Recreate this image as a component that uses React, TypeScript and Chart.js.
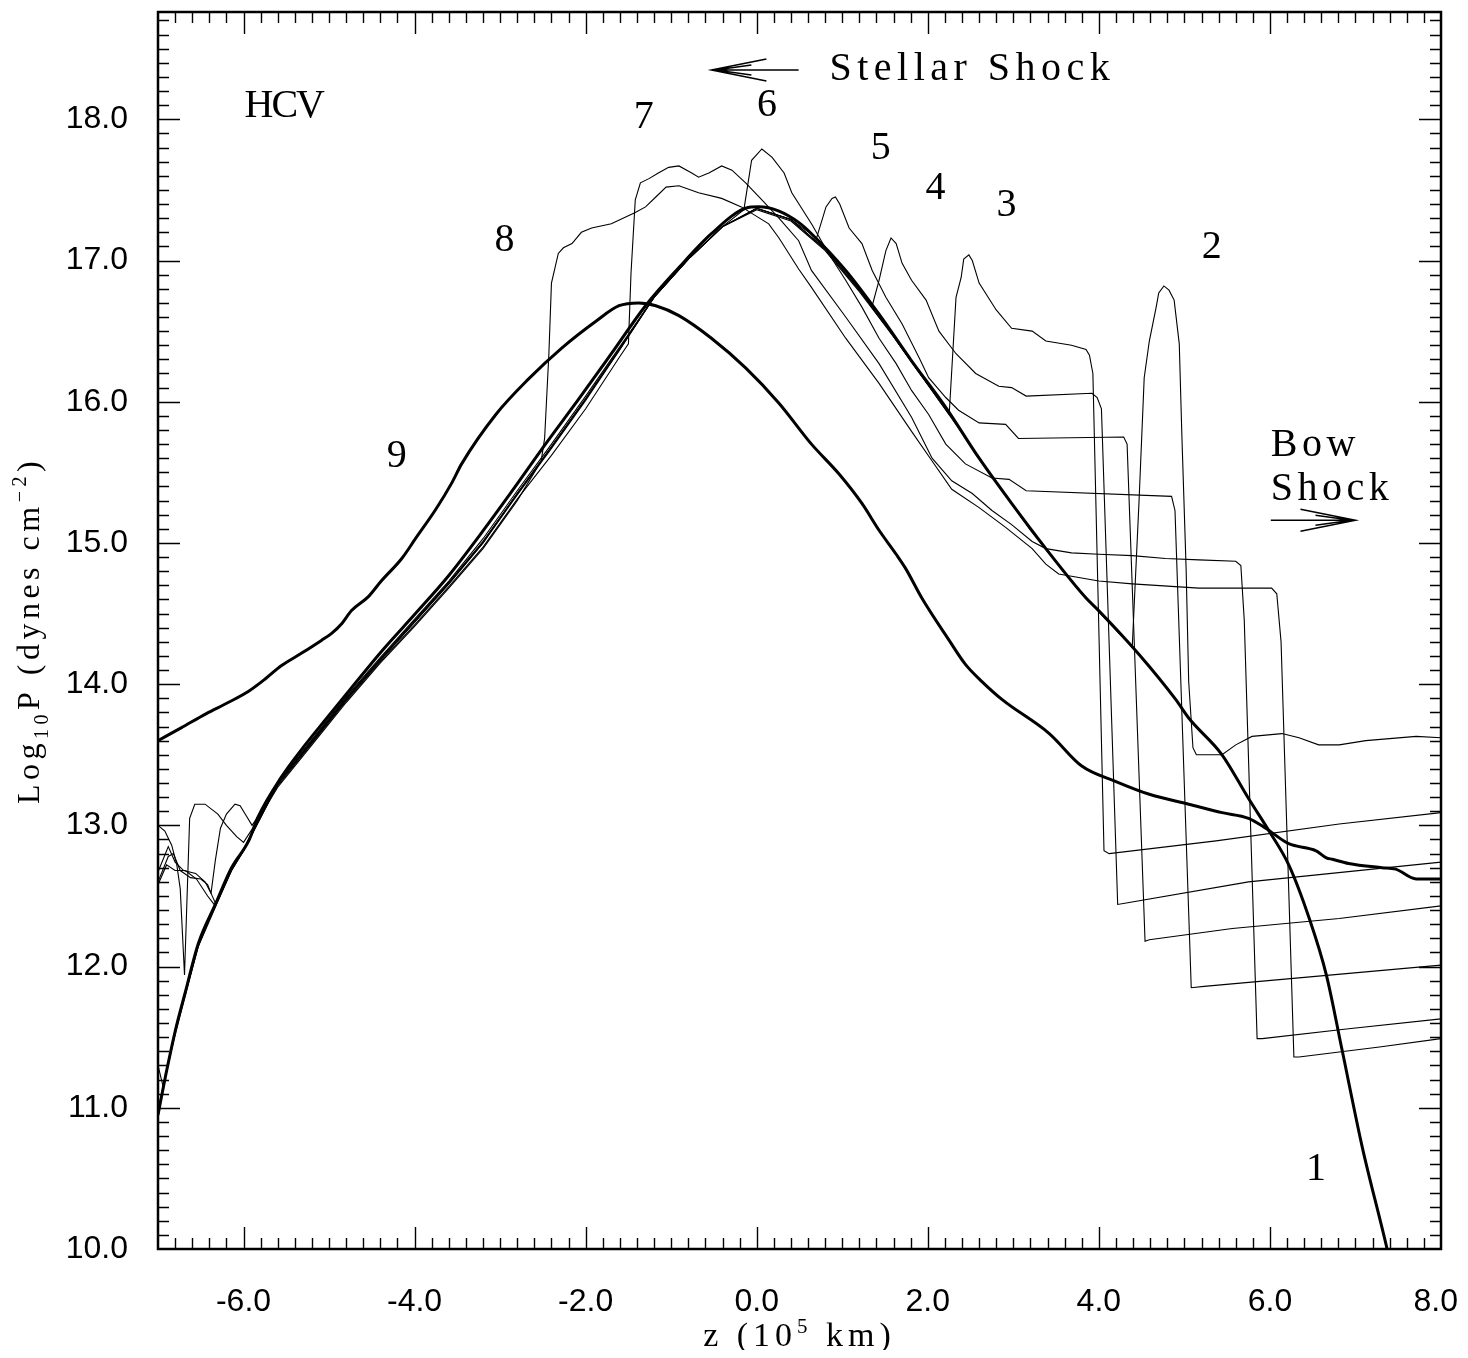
import React, { useEffect, useRef } from 'react';
import { Chart, registerables } from 'chart.js';

Chart.register(...registerables);

type Pt = [number, number];

const X_MIN = -7;
const X_MAX = 8;
const Y_MIN = 10;
const Y_MAX = 18.76;

const xTickValues = [-6, -4, -2, 0, 2, 4, 6, 8];
const yTickValues = [10, 11, 12, 13, 14, 15, 16, 17, 18];

// Curve 1 (thick): initial state
const curve1: Pt[] = [
  [-7.0, 10.95], [-6.91, 11.23], [-6.8, 11.54], [-6.68, 11.82], [-6.53, 12.16], [-6.33, 12.44],
  [-6.14, 12.7], [-5.94, 12.89], [-5.83, 13.06], [-5.56, 13.34], [-5.28, 13.57], [-5.04, 13.75],
  [-4.77, 13.95], [-4.39, 14.23], [-3.99, 14.5], [-3.6, 14.77], [-3.22, 15.07], [-2.87, 15.36],
  [-2.47, 15.7], [-2.08, 16.02], [-1.7, 16.34], [-1.3, 16.68], [-0.91, 16.95], [-0.53, 17.19],
  [-0.13, 17.37], [0.02, 17.38], [0.26, 17.35], [0.49, 17.27], [0.64, 17.19], [1.04, 16.93],
  [1.43, 16.62], [1.81, 16.29], [2.21, 15.96], [2.6, 15.6], [2.98, 15.28], [3.38, 14.96],
  [3.85, 14.61], [4.0, 14.52], [4.47, 14.21], [4.9, 13.89], [5.05, 13.76], [5.44, 13.5],
  [5.75, 13.19], [5.99, 12.96], [6.22, 12.72], [6.46, 12.34], [6.66, 11.94], [6.84, 11.42],
  [7.08, 10.72], [7.37, 10.0], [7.55, 9.5],
];

// Curve 9 (thick): final state
const curve9: Pt[] = [
  [-7.0, 13.6], [-6.73, 13.69], [-6.44, 13.79], [-6.18, 13.87], [-5.94, 13.95], [-5.74, 14.04],
  [-5.56, 14.13], [-5.32, 14.22], [-5.09, 14.31], [-4.97, 14.36], [-4.85, 14.43], [-4.74, 14.52],
  [-4.54, 14.62], [-4.39, 14.73], [-4.15, 14.89], [-3.99, 15.03], [-3.75, 15.24], [-3.57, 15.42],
  [-3.45, 15.56], [-3.05, 15.91], [-2.67, 16.16], [-2.28, 16.38], [-1.88, 16.57], [-1.61, 16.68],
  [-1.38, 16.7], [-1.18, 16.68], [-0.91, 16.61], [-0.53, 16.45], [-0.13, 16.24], [0.26, 15.99],
  [0.64, 15.7], [0.96, 15.49], [1.23, 15.28], [1.43, 15.09], [1.63, 14.92], [1.74, 14.82],
  [1.93, 14.61], [2.25, 14.31], [2.44, 14.14], [2.63, 14.02], [2.87, 13.89], [3.42, 13.65],
  [3.8, 13.42], [4.2, 13.31], [4.59, 13.22], [5.05, 13.15], [5.44, 13.09], [5.75, 13.05],
  [5.95, 12.98], [6.22, 12.87], [6.54, 12.82], [6.66, 12.77], [6.73, 12.76], [6.92, 12.73],
  [7.31, 12.7], [7.47, 12.69], [7.71, 12.62], [8.0, 12.62],
];

const curve2: Pt[] = [
  [-7.0, 10.98], [-6.91, 11.24], [-6.8, 11.54], [-6.68, 11.81], [-6.53, 12.15], [-6.33, 12.43],
  [-6.14, 12.69], [-6.0, 12.83], [-5.6, 13.31], [-5.2, 13.61], [-4.8, 13.91], [-4.4, 14.19],
  [-4.0, 14.46], [-3.6, 14.73], [-3.2, 15.03], [-2.8, 15.37], [-2.4, 15.7], [-2.0, 16.04],
  [-1.6, 16.39], [-1.2, 16.74], [-0.8, 17.01], [-0.4, 17.24], [0.0, 17.36], [0.4, 17.28],
  [0.8, 17.07], [1.2, 16.78], [1.6, 16.46], [2.0, 16.12], [2.4, 15.78], [2.8, 15.43],
  [3.2, 15.09], [3.6, 14.79], [4.0, 14.51], [4.39, 14.26], [4.47, 15.3], [4.53, 16.17],
  [4.59, 16.43], [4.67, 16.67], [4.7, 16.77], [4.76, 16.82], [4.82, 16.79], [4.88, 16.72],
  [4.94, 16.41], [4.97, 15.77], [5.02, 14.82], [5.05, 14.02], [5.1, 13.55], [5.14, 13.5],
  [5.44, 13.5], [5.6, 13.57], [5.79, 13.63], [6.14, 13.65], [6.34, 13.62], [6.57, 13.57],
  [6.81, 13.57], [7.12, 13.6], [7.71, 13.63], [8.0, 13.62],
];

const curve3: Pt[] = [
  [-7.0, 10.96], [-6.91, 11.23], [-6.8, 11.53], [-6.68, 11.81], [-6.53, 12.15], [-6.33, 12.43],
  [-6.14, 12.69], [-6.0, 12.82], [-5.6, 13.3], [-5.2, 13.59], [-4.8, 13.89], [-4.4, 14.17],
  [-4.0, 14.44], [-3.6, 14.71], [-3.2, 15.0], [-2.8, 15.34], [-2.4, 15.67], [-2.0, 16.01],
  [-1.6, 16.37], [-1.2, 16.74], [-0.8, 17.01], [-0.4, 17.24], [0.0, 17.37], [0.4, 17.29],
  [0.8, 17.08], [1.2, 16.79], [1.6, 16.46], [2.0, 16.12], [2.25, 15.91], [2.33, 16.74],
  [2.39, 16.88], [2.42, 17.01], [2.48, 17.04], [2.52, 17.0], [2.6, 16.84], [2.8, 16.65],
  [2.98, 16.52], [3.22, 16.5], [3.38, 16.43], [3.68, 16.4], [3.85, 16.37], [3.89, 16.33],
  [3.93, 16.2], [4.06, 12.82], [4.12, 12.8], [5.37, 12.89], [6.81, 13.01], [8.0, 13.09],
];

const curve4: Pt[] = [
  [-7.0, 12.58], [-6.9, 12.72], [-6.8, 12.68], [-6.68, 12.68], [-6.55, 12.62], [-6.42, 12.5],
  [-6.33, 12.43], [-6.14, 12.68], [-6.0, 12.82], [-5.6, 13.29], [-5.2, 13.6], [-4.8, 13.9],
  [-4.4, 14.18], [-4.0, 14.45], [-3.6, 14.72], [-3.2, 15.01], [-2.8, 15.35], [-2.4, 15.68],
  [-2.0, 16.02], [-1.6, 16.38], [-1.2, 16.74], [-0.8, 17.01], [-0.4, 17.24], [0.0, 17.37],
  [0.4, 17.29], [0.8, 17.08], [1.2, 16.79], [1.35, 16.68], [1.43, 16.86], [1.51, 17.07],
  [1.57, 17.16], [1.63, 17.12], [1.7, 16.98], [1.81, 16.86], [1.98, 16.72], [2.13, 16.5],
  [2.33, 16.34], [2.56, 16.2], [2.83, 16.11], [2.98, 16.1], [3.15, 16.04], [3.92, 16.06],
  [3.98, 16.03], [4.03, 15.95], [4.22, 12.44], [4.32, 12.45], [5.75, 12.6], [8.0, 12.74],
];

const curve5: Pt[] = [
  [-7.0, 11.3], [-6.94, 11.15], [-6.8, 11.52], [-6.68, 11.8], [-6.53, 12.14], [-6.33, 12.42],
  [-6.14, 12.68], [-6.0, 12.82], [-5.6, 13.29], [-5.2, 13.59], [-4.8, 13.89], [-4.4, 14.17],
  [-4.0, 14.44], [-3.6, 14.71], [-3.2, 15.0], [-2.8, 15.35], [-2.4, 15.68], [-2.0, 16.02],
  [-1.6, 16.38], [-1.2, 16.74], [-0.8, 17.01], [-0.4, 17.24], [0.0, 17.37], [0.4, 17.29],
  [0.7, 17.16], [0.81, 17.38], [0.88, 17.44], [0.92, 17.45], [0.97, 17.4], [1.08, 17.23],
  [1.23, 17.12], [1.35, 16.93], [1.51, 16.74], [1.7, 16.55], [1.9, 16.31], [2.01, 16.17],
  [2.21, 16.03], [2.36, 15.94], [2.6, 15.85], [2.91, 15.84], [3.06, 15.74], [4.29, 15.75],
  [4.33, 15.7], [4.54, 12.18], [4.59, 12.19], [5.56, 12.27], [6.81, 12.34], [8.0, 12.43],
];

const curve6: Pt[] = [
  [-7.0, 12.67], [-6.88, 12.85], [-6.8, 12.74], [-6.7, 12.68], [-6.56, 12.66], [-6.45, 12.6],
  [-6.38, 12.52], [-6.33, 12.45], [-6.14, 12.69], [-6.0, 12.83], [-5.6, 13.3], [-5.2, 13.6],
  [-4.8, 13.9], [-4.4, 14.18], [-4.0, 14.45], [-3.6, 14.72], [-3.2, 15.01], [-2.8, 15.35],
  [-2.4, 15.68], [-2.0, 16.02], [-1.6, 16.37], [-1.2, 16.74], [-0.8, 17.01], [-0.4, 17.24],
  [-0.15, 17.36], [-0.06, 17.71], [0.06, 17.79], [0.18, 17.73], [0.32, 17.62], [0.41, 17.48],
  [0.64, 17.26], [0.84, 17.05], [1.04, 16.86], [1.23, 16.67], [1.43, 16.45], [1.63, 16.27],
  [1.81, 16.08], [2.01, 15.91], [2.21, 15.7], [2.44, 15.56], [2.75, 15.46], [2.95, 15.45],
  [3.15, 15.37], [4.85, 15.33], [4.89, 15.23], [5.08, 11.85], [5.23, 11.86], [8.0, 12.01],
];

const curve7: Pt[] = [
  [-7.0, 12.6], [-6.88, 12.78], [-6.82, 12.8], [-6.74, 12.68], [-6.62, 12.63], [-6.5, 12.62],
  [-6.42, 12.58], [-6.38, 12.52], [-6.33, 12.75], [-6.27, 12.98], [-6.2, 13.08], [-6.1, 13.15],
  [-6.04, 13.14], [-5.97, 13.07], [-5.9, 13.0], [-5.8, 13.09], [-5.6, 13.28], [-5.2, 13.58],
  [-4.8, 13.88], [-4.4, 14.16], [-4.0, 14.42], [-3.6, 14.69], [-3.2, 14.97], [-2.8, 15.31],
  [-2.4, 15.62], [-2.0, 15.95], [-1.6, 16.32], [-1.5, 16.41], [-1.47, 16.91], [-1.42, 17.43],
  [-1.36, 17.55], [-1.26, 17.58], [-1.15, 17.62], [-1.03, 17.66], [-0.91, 17.67], [-0.76, 17.62],
  [-0.68, 17.59], [-0.56, 17.62], [-0.41, 17.67], [-0.29, 17.64], [-0.13, 17.55], [0.06, 17.43],
  [0.26, 17.3], [0.49, 17.14], [0.64, 16.93], [1.04, 16.6], [1.43, 16.27], [1.81, 15.89],
  [2.05, 15.6], [2.28, 15.44], [2.52, 15.35], [2.75, 15.23], [2.98, 15.13], [3.22, 15.01],
  [3.38, 14.96], [3.68, 14.93], [4.0, 14.92], [4.39, 14.91], [4.78, 14.89], [5.17, 14.88],
  [5.6, 14.87], [5.66, 14.84], [5.7, 14.45], [5.85, 11.49], [5.91, 11.49], [6.92, 11.56],
  [8.0, 11.63],
];

const curve8: Pt[] = [
  [-7.0, 13.0], [-6.92, 12.96], [-6.84, 12.86], [-6.78, 12.72], [-6.74, 12.55], [-6.69, 11.94],
  [-6.63, 13.05], [-6.57, 13.15], [-6.45, 13.15], [-6.3, 13.08], [-6.2, 13.0], [-6.08, 12.92],
  [-6.0, 12.88], [-5.85, 13.02], [-5.6, 13.27], [-5.2, 13.57], [-4.8, 13.87], [-4.4, 14.15],
  [-4.0, 14.41], [-3.6, 14.68], [-3.2, 14.96], [-2.8, 15.3], [-2.52, 15.58], [-2.48, 15.74],
  [-2.43, 16.34], [-2.4, 16.84], [-2.32, 17.05], [-2.26, 17.09], [-2.16, 17.12], [-2.05, 17.2],
  [-1.93, 17.23], [-1.7, 17.26], [-1.42, 17.34], [-1.3, 17.38], [-1.18, 17.45], [-1.06, 17.52],
  [-0.91, 17.53], [-0.68, 17.48], [-0.41, 17.44], [-0.18, 17.38], [0.14, 17.26], [0.26, 17.16],
  [0.49, 16.94], [0.64, 16.81], [1.04, 16.45], [1.43, 16.13], [1.81, 15.79], [2.05, 15.58],
  [2.28, 15.38], [2.6, 15.25], [2.91, 15.11], [3.22, 14.96], [3.38, 14.85], [3.53, 14.78],
  [4.0, 14.73], [4.39, 14.71], [5.17, 14.68], [6.02, 14.68], [6.08, 14.64], [6.13, 14.3],
  [6.28, 11.36], [6.34, 11.36], [7.28, 11.43], [8.0, 11.49],
];

const thickSeries: Pt[][] = [curve1, curve9];
const thinSeries: Pt[][] = [curve2, curve3, curve4, curve5, curve6, curve7, curve8];

const curveLabels = [
  { text: 'HCV', x: -5.53, y: 18.09 },
  { text: '9', x: -4.21, y: 15.61 },
  { text: '8', x: -2.95, y: 17.14 },
  { text: '7', x: -1.32, y: 18.01 },
  { text: '6', x: 0.12, y: 18.1 },
  { text: '5', x: 1.45, y: 17.79 },
  { text: '4', x: 2.09, y: 17.51 },
  { text: '3', x: 2.92, y: 17.39 },
  { text: '2', x: 5.32, y: 17.09 },
  { text: '1', x: 6.54, y: 10.56 },
];

const stellarNote = { text: 'Stellar Shock', x: 0.85, y: 18.35, arrowFrom: 0.49, arrowTo: -0.53 };
const bowNote = { lines: ['Bow', 'Shock'], x: 6.01, y1: 15.69, y2: 15.38, arrowY: 15.16, arrowFrom: 6.01, arrowTo: 7.0 };

const SERIF = "'Liberation Serif', 'Times New Roman', serif";
const SANS = "'Liberation Sans', Arial, Helvetica, sans-serif";

// canvas geometry
const CANVAS_W = 1452;
const CANVAS_H = 1342;
const AREA = { left: 150, right: 1433, top: 4, bottom: 1241 };

type Part = { t: string; s?: 'sub' | 'sup' };

function drawParts(ctx: CanvasRenderingContext2D, parts: Part[], cx: number, cy: number, size: number, spacing: number) {
  const small = Math.round(size * 0.62);
  (ctx as any).letterSpacing = `${spacing}px`;
  const widths = parts.map((p) => {
    ctx.font = `${p.s ? small : size}px ${SERIF}`;
    return ctx.measureText(p.t).width;
  });
  const total = widths.reduce((a, b) => a + b, 0);
  let x = cx - total / 2;
  ctx.textAlign = 'left';
  ctx.textBaseline = 'alphabetic';
  parts.forEach((p, i) => {
    ctx.font = `${p.s ? small : size}px ${SERIF}`;
    const dy = p.s === 'sub' ? size * 0.3 : p.s === 'sup' ? -size * 0.4 : 0;
    ctx.fillText(p.t, x, cy + size * 0.33 + dy);
    x += widths[i];
  });
  (ctx as any).letterSpacing = '0px';
}

function drawArrow(ctx: CanvasRenderingContext2D, x0: number, x1: number, y: number) {
  const dir = Math.sign(x1 - x0);
  ctx.beginPath();
  ctx.moveTo(x0, y);
  ctx.lineTo(x1, y);
  ctx.moveTo(x1 - dir * 55, y - 11);
  ctx.lineTo(x1, y);
  ctx.lineTo(x1 - dir * 55, y + 11);
  ctx.moveTo(x1 - dir * 40, y - 5);
  ctx.lineTo(x1 - dir * 4, y);
  ctx.lineTo(x1 - dir * 40, y + 5);
  ctx.stroke();
}

const decorPlugin = {
  id: 'decor',
  afterDraw(chart: any) {
    const ctx: CanvasRenderingContext2D = chart.ctx;
    const a = chart.chartArea;
    const xs = chart.scales.x;
    const ys = chart.scales.y;
    const X = (v: number) => xs.getPixelForValue(v);
    const Y = (v: number) => ys.getPixelForValue(v);
    ctx.save();
    ctx.strokeStyle = '#000';
    ctx.fillStyle = '#000';

    // tick marks (inward, all four sides)
    ctx.lineWidth = 1.4;
    ctx.beginPath();
    for (let i = 1; i < 75; i++) {
      const v = X_MIN + i * 0.2;
      const len = (i - 5) % 10 === 0 ? 22 : 11;
      const px = Math.round(X(v)) + 0.5;
      ctx.moveTo(px, a.bottom);
      ctx.lineTo(px, a.bottom - len);
      ctx.moveTo(px, a.top);
      ctx.lineTo(px, a.top + len);
    }
    for (let i = 1; i <= 87; i++) {
      const v = Y_MIN + i * 0.1;
      const len = i % 10 === 0 ? 22 : 11;
      const py = Math.round(Y(v)) + 0.5;
      ctx.moveTo(a.left, py);
      ctx.lineTo(a.left + len, py);
      ctx.moveTo(a.right, py);
      ctx.lineTo(a.right - len, py);
    }
    ctx.stroke();

    // frame
    ctx.lineWidth = 2.5;
    ctx.strokeRect(a.left, a.top, a.right - a.left, a.bottom - a.top);

    // tick labels
    ctx.font = `32px ${SANS}`;
    ctx.textAlign = 'center';
    ctx.textBaseline = 'middle';
    xTickValues.forEach((v) => {
      const label = v.toFixed(1);
      const half = ctx.measureText(label).width / 2;
      const cx = Math.min(X(v), CANVAS_W - 2 - half);
      ctx.fillText(label, cx, a.bottom + 53);
    });
    ctx.textAlign = 'right';
    yTickValues.forEach((v) => ctx.fillText(v.toFixed(1), a.left - 30, Y(v)));

    // curve labels
    ctx.font = `40px ${SERIF}`;
    ctx.textAlign = 'center';
    ctx.textBaseline = 'middle';
    curveLabels.forEach((l) => {
      (ctx as any).letterSpacing = l.text.length > 1 ? '-2px' : '0px';
      ctx.fillText(l.text, X(l.x), Y(l.y));
    });

    // stellar shock note
    (ctx as any).letterSpacing = '5.5px';
    ctx.textAlign = 'left';
    ctx.fillText(stellarNote.text, X(stellarNote.x), Y(stellarNote.y));
    // bow shock note
    (ctx as any).letterSpacing = '4.5px';
    ctx.fillText(bowNote.lines[0], X(bowNote.x), Y(bowNote.y1));
    ctx.fillText(bowNote.lines[1], X(bowNote.x), Y(bowNote.y2));
    (ctx as any).letterSpacing = '0px';

    ctx.lineWidth = 1.5;
    drawArrow(ctx, X(stellarNote.arrowFrom), X(stellarNote.arrowTo), Y(stellarNote.y));
    drawArrow(ctx, X(bowNote.arrowFrom), X(bowNote.arrowTo), Y(bowNote.arrowY));

    // axis titles
    const midX = (a.left + a.right) / 2;
    drawParts(ctx, [{ t: 'z (10' }, { t: '5', s: 'sup' }, { t: ' km)' }], midX, 1327, 34, 5);
    ctx.save();
    ctx.translate(20, (a.top + a.bottom) / 2);
    ctx.rotate(-Math.PI / 2);
    drawParts(
      ctx,
      [{ t: 'Log' }, { t: '10', s: 'sub' }, { t: 'P (dynes cm' }, { t: '\u22122', s: 'sup' }, { t: ')' }],
      0,
      0,
      32,
      4.5,
    );
    ctx.restore();
    ctx.restore();
  },
};

export default function App() {
  const ref = useRef<HTMLCanvasElement>(null);
  useEffect(() => {
    if (!ref.current) return;
    const datasets: any[] = [];
    thickSeries.forEach((s, i) => {
      datasets.push({
        label: i === 0 ? 'curve 1' : 'curve 9',
        data: s.map(([x, y]) => ({ x, y })),
        borderColor: '#000',
        borderWidth: 3,
        pointRadius: 0,
        cubicInterpolationMode: 'monotone',
        fill: false,
      });
    });
    thinSeries.forEach((s, i) => {
      datasets.push({
        label: `curve ${i + 2}`,
        data: s.map(([x, y]) => ({ x, y })),
        borderColor: '#000',
        borderWidth: 1.1,
        pointRadius: 0,
        tension: 0,
        fill: false,
      });
    });
    const chart = new Chart(ref.current, {
      type: 'line',
      data: { datasets },
      options: {
        animation: false,
        responsive: false,
        maintainAspectRatio: false,
        layout: {
          padding: { left: AREA.left, right: CANVAS_W - AREA.right, top: AREA.top, bottom: CANVAS_H - AREA.bottom },
        },
        plugins: { legend: { display: false }, tooltip: { enabled: false } },
        scales: {
          x: {
            type: 'linear',
            min: X_MIN,
            max: X_MAX,
            grid: { display: false, drawTicks: false },
            border: { display: false },
            ticks: { display: false },
            afterFit: (s: any) => {
              s.height = 0;
            },
          },
          y: {
            type: 'linear',
            min: Y_MIN,
            max: Y_MAX,
            grid: { display: false, drawTicks: false },
            border: { display: false },
            ticks: { display: false },
            afterFit: (s: any) => {
              s.width = 0;
            },
          },
        },
      } as any,
      plugins: [decorPlugin],
    });
    return () => chart.destroy();
  }, []);
  return <canvas ref={ref} width={CANVAS_W} height={CANVAS_H} style={{ display: 'block' }} />;
}
